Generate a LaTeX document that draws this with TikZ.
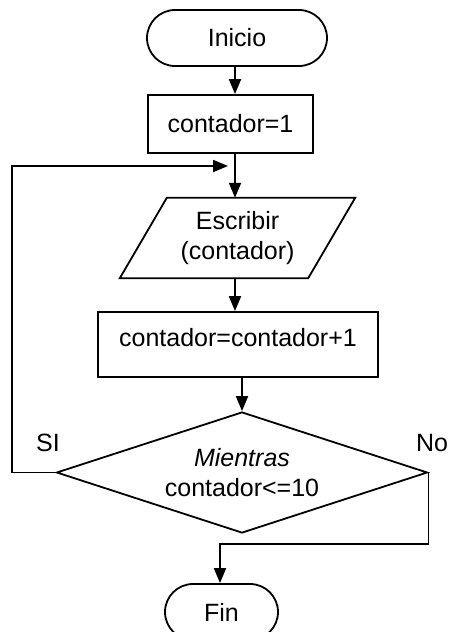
\documentclass[tikz,border=0pt]{standalone}
\usepackage{fontspec}
\setmainfont{Liberation Sans}
\usetikzlibrary{shapes.geometric,arrows.meta}
\begin{document}
\begin{tikzpicture}[x=1pt,y=-1pt,
  every node/.style={font=\fontsize{25}{30}\selectfont, align=center},
  line/.style={line width=1.8pt},
  arrow/.style={line, -{Triangle[length=15pt,width=12pt]}},
  terminal/.style={draw, line width=1.8pt, rectangle, rounded corners=28pt,
                   minimum height=56pt, inner sep=0pt},
  procbox/.style={draw, line width=1.8pt, rectangle, inner sep=0pt},
  decision/.style={draw, line width=1.8pt, diamond, inner sep=0pt,
                   aspect=3.07, minimum width=371pt, minimum height=121pt}]
\useasboundingbox (0,0) rectangle (451,632);

% flow column and helper coordinates
\coordinate (axis) at (235,0);
\coordinate (axisb) at (242,0);
\coordinate (loopx) at (12,0);
\coordinate (join) at (235,166);
\coordinate (bend) at (0,544);

% nodes
\node[terminal, minimum width=180pt] (inicio) at (237,38) {Inicio};
\node[procbox, minimum width=165pt, minimum height=58pt] (c1) at (230.5,124) {contador=1};
\node[minimum width=188pt, minimum height=80pt, inner sep=0pt] (esc) at (237.5,238)
  {Escribir\\(contador)};
\draw[line] ([xshift=23.5pt]esc.north west) -- ([xshift=23.5pt]esc.north east)
  -- ([xshift=-23.5pt]esc.south east) -- ([xshift=-23.5pt]esc.south west) -- cycle;
\node[procbox, minimum width=280pt, minimum height=65pt, text depth=15pt] (c2) at (238,344.5)
  {contador=contador+1};
\node[decision] (dec) at (242,472.5) {\textit{Mientras}\\contador<=10};
\node[terminal, minimum width=113pt] (fin) at (221.5,612) {Fin};

\node (si) at (48,443) {SI};
\node (no) at (432,443) {No};

% connectors
\draw[arrow] (inicio.south -| axis) -- (c1.north -| axis);
\draw[arrow] (c1.south -| axis) -- (esc.north -| axis);
\draw[arrow] (esc.south -| axis) -- (c2.north -| axis);
\draw[arrow] (c2.south -| axisb) -- (dec.north);
\draw[arrow, shorten >=7pt] (dec.west) -- (dec.west -| loopx) |- (join);
\draw[arrow] (dec.east) -- (dec.east |- bend) -| (fin.north -| 220,0);
\end{tikzpicture}
\end{document}
